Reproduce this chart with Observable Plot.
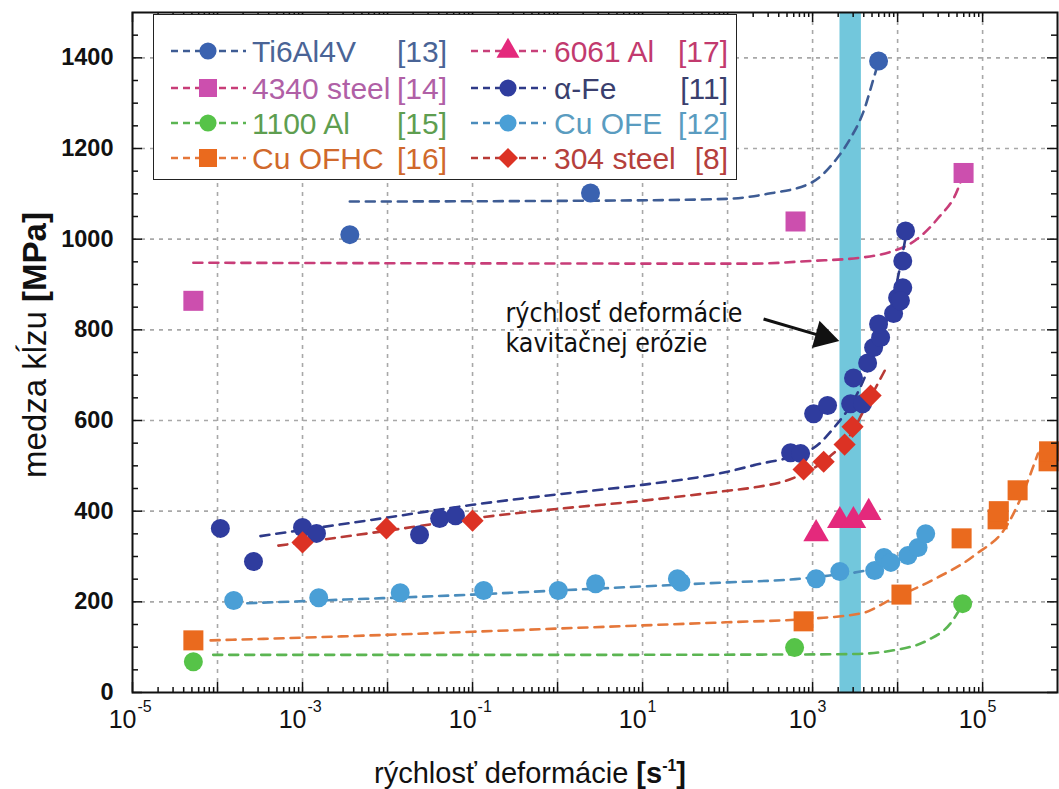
<!DOCTYPE html>
<html><head><meta charset="utf-8">
<script src="https://cdn.jsdelivr.net/npm/d3@7"></script>
<script src="https://cdn.jsdelivr.net/npm/@observablehq/plot@0.6"></script>
<style>
body{margin:0;background:#fff;}
#wrap{position:relative;width:1059px;height:789px;overflow:hidden;background:#fff;}
#legend{position:absolute;left:153px;top:14px;width:584px;height:166px;border:1.5px solid #222;background:#fff;box-sizing:border-box;}
.title{position:absolute;white-space:nowrap;font-family:"Liberation Sans Narrow","Arial Narrow","Liberation Sans",sans-serif;color:#111;}
#ytitle{left:35px;top:345px;font-size:33px;transform:translate(-50%,-50%) rotate(-90deg);}
#xtitle{left:530px;top:773px;font-size:29px;transform:translate(-50%,-50%);}
b{font-weight:bold;}
sup{font-size:0.55em;font-weight:bold;vertical-align:0.7em;}
</style></head>
<body><div id="wrap"><div id="chart"></div><div id="legend"></div>
<div id="ytitle" class="title">medza kĺzu <b>[MPa]</b></div>
<div id="xtitle" class="title">rýchlosť deformácie <b>[s<sup>-1</sup>]</b></div>
</div>
<script>
// ---------- data (strain rate in s^-1, yield stress in MPa) ----------
const tiRate = [3.6e-3, 2.44, 5970];
const tiMPa = [1010, 1102, 1393];
const tiLineRate = [3.6e-3, 3.2, 100, 295, 955, 1950, 2820, 4000, 5250, 5900];
const tiLineMPa = [1083, 1085, 1089, 1100, 1124, 1179, 1224, 1283, 1356, 1388];

const s4340Rate = [5.2e-5, 630, 5.97e4];
const s4340MPa = [864, 1039, 1146];
const s4340LineRate = [5.2e-5, 186, 955, 3630, 8900, 14100, 29500, 51300, 5.97e4];
const s4340LineMPa = [948, 946, 952, 959, 974, 990, 1045, 1111, 1146];

const al1100Rate = [5.2e-5, 614, 5.82e4];
const al1100MPa = [68, 99, 196];
const al1100LineRate = [8.9e-5, 1, 1000, 3160, 8910, 2.24e4, 4.17e4, 5.89e4];
const al1100LineMPa = [83, 83, 84, 85, 93, 115, 152, 196];

const ofhcRate = [5.2e-5, 784, 1.11e4, 5.66e4, 1.5e5, 1.55e5, 2.58e5, 5.97e5, 6.05e5];
const ofhcMPa = [115, 157, 216, 340, 382, 400, 446, 510, 532];
const ofhcLineRate = [8.3e-5, 1e-3, 0.1, 1, 10, 100, 1000, 3980, 7940, 2.51e4, 7.94e4, 2.0e5, 3.31e5, 4.47e5];
const ofhcLineMPa = [115, 121, 134, 141, 148, 155, 163, 176, 203, 247, 302, 373, 461, 527];

const al6061Rate = [1100, 2090, 3020, 4570];
const al6061MPa = [350, 379, 379, 397];

const feRate = [1.08e-4, 2.65e-4, 1.0e-3, 1.46e-3, 0.0238, 0.041, 0.063,
  551, 723, 1028, 1500, 2800, 3870, 3030, 4440, 5220, 6310, 5970, 8970, 1.0e4, 1.15e4, 1.08e4, 1.15e4, 1.24e4];
const feMPa = [362, 289, 364, 351, 348, 384, 390,
  529, 527, 615, 633, 637, 637, 694, 727, 761, 783, 813, 836, 871, 893, 864, 952, 1018];
const feLineRate = [3.2e-4, 0.01, 0.1, 1, 10, 100, 200, 1000, 1780, 3160, 5620, 8910, 1.26e4];
const feLineMPa = [345, 386, 414, 437, 458, 487, 501, 538, 584, 650, 760, 870, 1010];

const ofeRate = [1.55e-4, 1.55e-3, 0.0141, 0.135, 1.02, 2.8, 25.7, 28.2, 1100, 2090, 5370, 6920, 8320, 1.32e4, 1.74e4, 2.14e4];
const ofeMPa = [203, 209, 220, 225, 225, 240, 251, 243, 251, 267, 269, 298, 287, 302, 320, 350];
const ofeLineRate = [2.24e-4, 3.16e-3, 0.1, 1, 10, 100, 630, 1580, 3980, 1e4, 2.14e4];
const ofeLineMPa = [197, 205, 216, 225, 234, 243, 250, 258, 268, 290, 350];

const s304Rate = [1.0e-3, 9.7e-3, 0.1, 784, 1350, 2380, 2950, 4810];
const s304MPa = [331, 362, 379, 492, 509, 547, 586, 655];
const s304LineRate = [5.2e-4, 0.01, 0.1, 1, 10, 100, 200, 630, 1580, 2820, 4470, 7240];
const s304LineMPa = [324, 357, 384, 405, 423, 445, 452, 475, 520, 570, 640, 714];

const cavitationBand = [2100, 3750];
const annotLines = ["rýchlosť deformácie", "kavitačnej erózie"];
const annotX = 0.244;
const annotY = [836, 769];
const arrowFrom = [265, 824];
const arrowTo = [1346, 785];

const yTickLabels = [0, 200, 400, 600, 800, 1000, 1200, 1400];
const yMinorTicks = [50,100,150,250,300,350,450,500,550,650,700,750,850,900,950,1050,1100,1150,1250,1300,1350,1450];
const xLabelExps = [-5, -3, -1, 1, 3, 5];
const xDecades = [-5,-4,-3,-2,-1,0,1,2,3,4,5];
const xMinorMult = [2,3,4,5,6,7,8,9];

// ---------- layout ----------
const W = 1059, H = 789, mL = 132, mT = 12, mR = 2, mB = 97;
const pw = W - mL - mR, ph = H - mT - mB;
const xDomain = [1e-5, 7.6e5];
const yDomain = [0, 1500];

const pts = (r, m) => r.map((x, i) => ({x, y: m[i]}));
const series = [
  {name:"Ti6Al4V", ref:"[13]", sym:"circle", fill:"#3a62b0", line:"#3e5c94", text:"#4a6496", r:9.5, p:pts(tiRate,tiMPa), l:pts(tiLineRate,tiLineMPa)},
  {name:"4340 steel", ref:"[14]", sym:"square", fill:"#cc4fae", line:"#c83d78", text:"#b060a6", r:11.3, p:pts(s4340Rate,s4340MPa), l:pts(s4340LineRate,s4340LineMPa)},
  {name:"1100 Al", ref:"[15]", sym:"circle", fill:"#56c348", line:"#5bb552", text:"#5e9e50", r:9.5, p:pts(al1100Rate,al1100MPa), l:pts(al1100LineRate,al1100LineMPa)},
  {name:"Cu OFHC", ref:"[16]", sym:"square", fill:"#ea6a1e", line:"#e5773a", text:"#d0692c", r:11.3, p:pts(ofhcRate,ofhcMPa), l:pts(ofhcLineRate,ofhcLineMPa)},
  {name:"6061 Al", ref:"[17]", sym:"triangle", fill:"#e4297c", line:"#c8407a", text:"#c23a6e", r:9.5, p:pts(al6061Rate,al6061MPa), l:null},
  {name:"α-Fe", ref:"[11]", sym:"circle", fill:"#2f3c9e", line:"#2e3a88", text:"#3a3f6e", r:9.5, p:pts(feRate,feMPa), l:pts(feLineRate,feLineMPa)},
  {name:"Cu OFE", ref:"[12]", sym:"circle", fill:"#4a9fd6", line:"#4a8cbc", text:"#5a9cc0", r:9.5, p:pts(ofeRate,ofeMPa), l:pts(ofeLineRate,ofeLineMPa)},
  {name:"304 steel", ref:"[8]", sym:"diamond2", fill:"#dc3224", line:"#b83a36", text:"#b5403c", r:10, p:pts(s304Rate,s304MPa), l:pts(s304LineRate,s304LineMPa)}
];

const minorX = xDecades.slice(0, -1).flatMap(d => xMinorMult.map(m => m * 10 ** d)).filter(v => v <= xDomain[1]);
const narrow = '"Liberation Sans Narrow","Arial Narrow","Liberation Sans",sans-serif';
const grid = {stroke:"#a8a8a8", strokeWidth:1.6, strokeDasharray:"4,5", strokeOpacity:1};
const tk = {stroke:"#111", strokeWidth:1.5};

const drawOrder = [1, 0, 2, 3, 6, 4, 5, 7];
const marks = [
  Plot.ruleX(xDecades.slice(1), {x: d => 10 ** d, ...grid}),
  Plot.ruleY(yTickLabels.slice(1), {y: d => d, ...grid}),
  Plot.rect([cavitationBand], {x1: d => d[0], x2: d => d[1], y1: () => yDomain[0], y2: () => yDomain[1], fill:"#72c7dc"}),
  ...drawOrder.filter(i => series[i].l).map(i => Plot.line(series[i].l, {x:"x", y:"y", stroke: series[i].line, strokeWidth:2.6, strokeDasharray:"9,7", curve:"monotone-x"})),
  ...drawOrder.map(i => Plot.dot(series[i].p, {x:"x", y:"y", symbol: series[i].sym, r: series[i].r, fill: series[i].fill, stroke:"none"})),
  // annotation
  Plot.text(annotLines, {x: () => annotX, y: (d, i) => annotY[i], text: d => d, textAnchor:"start", fontSize:26.5, fontFamily:'"DejaVu Sans Condensed","DejaVu Sans",sans-serif', fill:"#111"}),
  Plot.link([0], {x1: () => arrowFrom[0], y1: () => arrowFrom[1], x2: () => arrowTo[0], y2: () => arrowTo[1], stroke:"#111", strokeWidth:3}),
  Plot.dot([0], {x: () => arrowTo[0], y: () => arrowTo[1], symbol:"triangle", r:10.5, rotate:105.5, fill:"#111"}),
  // ticks (inside the frame)
  Plot.ruleY(yTickLabels, {y: d => d, insetRight: pw - 10, ...tk}),
  Plot.ruleY(yMinorTicks, {y: d => d, insetRight: pw - 6, ...tk}),
  Plot.ruleY(yTickLabels, {y: d => d, insetLeft: pw - 10, ...tk}),
  Plot.ruleY(yMinorTicks, {y: d => d, insetLeft: pw - 6, ...tk}),
  Plot.ruleX(xDecades, {x: d => 10 ** d, insetTop: ph - 10, ...tk}),
  Plot.ruleX(minorX, {x: d => d, insetTop: ph - 5, ...tk}),
  Plot.ruleX(xDecades, {x: d => 10 ** d, insetBottom: ph - 10, ...tk}),
  Plot.ruleX(minorX, {x: d => d, insetBottom: ph - 5, ...tk}),
  Plot.frame({stroke:"#111", strokeWidth:2}),
  // tick labels
  Plot.text(yTickLabels, {y: d => d, text: d => String(d), frameAnchor:"left", textAnchor:"end", dx:-19, fontSize:23.5, fontWeight:"bold", fontFamily:'"Liberation Sans",Arial,sans-serif', fill:"#111"}),
  Plot.text(xLabelExps, {x: d => 10 ** d, text: () => "10", frameAnchor:"bottom", textAnchor:"end", dx:4, dy:35, fontSize:25, fontFamily:narrow, fill:"#111"}),
  Plot.text(xLabelExps, {x: d => 10 ** d, text: d => String(d), frameAnchor:"bottom", textAnchor:"start", dx:5, dy:19, fontSize:16, fontFamily:narrow, fill:"#111"})
];

const chart = Plot.plot({
  width: W, height: H,
  marginLeft: mL, marginTop: mT, marginRight: mR, marginBottom: mB,
  x: {type:"log", domain: xDomain, axis: null},
  y: {domain: yDomain, axis: null},
  style: {background:"#fff", overflow:"visible"},
  marks
});
document.getElementById("chart").appendChild(chart);

// ---------- legend ----------
const lg = d3.select("#legend").append("svg").attr("width", 581).attr("height", 163)
  .style("position","absolute").style("left","0").style("top","0");
const rowsY = [36, 73, 108, 143];
const cols = [{lx0:17, lx1:92, mx:54, nx:98, rx:293}, {lx0:317, lx1:392, mx:354, nx:400, rx:574}];
const symMap = {circle: d3.symbolCircle, square: d3.symbolSquare, triangle: d3.symbolTriangle, diamond2: d3.symbolDiamond2};
series.forEach((s, i) => {
  const c = cols[Math.floor(i / 4)], y = rowsY[i % 4];
  lg.append("line").attr("x1", c.lx0).attr("x2", c.lx1).attr("y1", y).attr("y2", y)
    .attr("stroke", s.line).attr("stroke-width", 2.4).attr("stroke-dasharray", "7,5");
  lg.append("path").attr("d", d3.symbol(symMap[s.sym], Math.PI * (s.r * 0.9) ** 2)())
    .attr("transform", `translate(${c.mx},${y})`).attr("fill", s.fill);
  lg.append("text").attr("x", c.nx).attr("y", y).attr("dy", "0.36em").text(s.name)
    .attr("fill", s.text).attr("font-size", 30).attr("font-family", '"Liberation Sans",Arial,sans-serif');
  lg.append("text").attr("x", c.rx).attr("y", y).attr("dy", "0.36em").attr("text-anchor", "end").text(s.ref)
    .attr("fill", s.text).attr("font-size", 30).attr("font-family", '"Liberation Sans",Arial,sans-serif');
});
</script>
</body></html>
